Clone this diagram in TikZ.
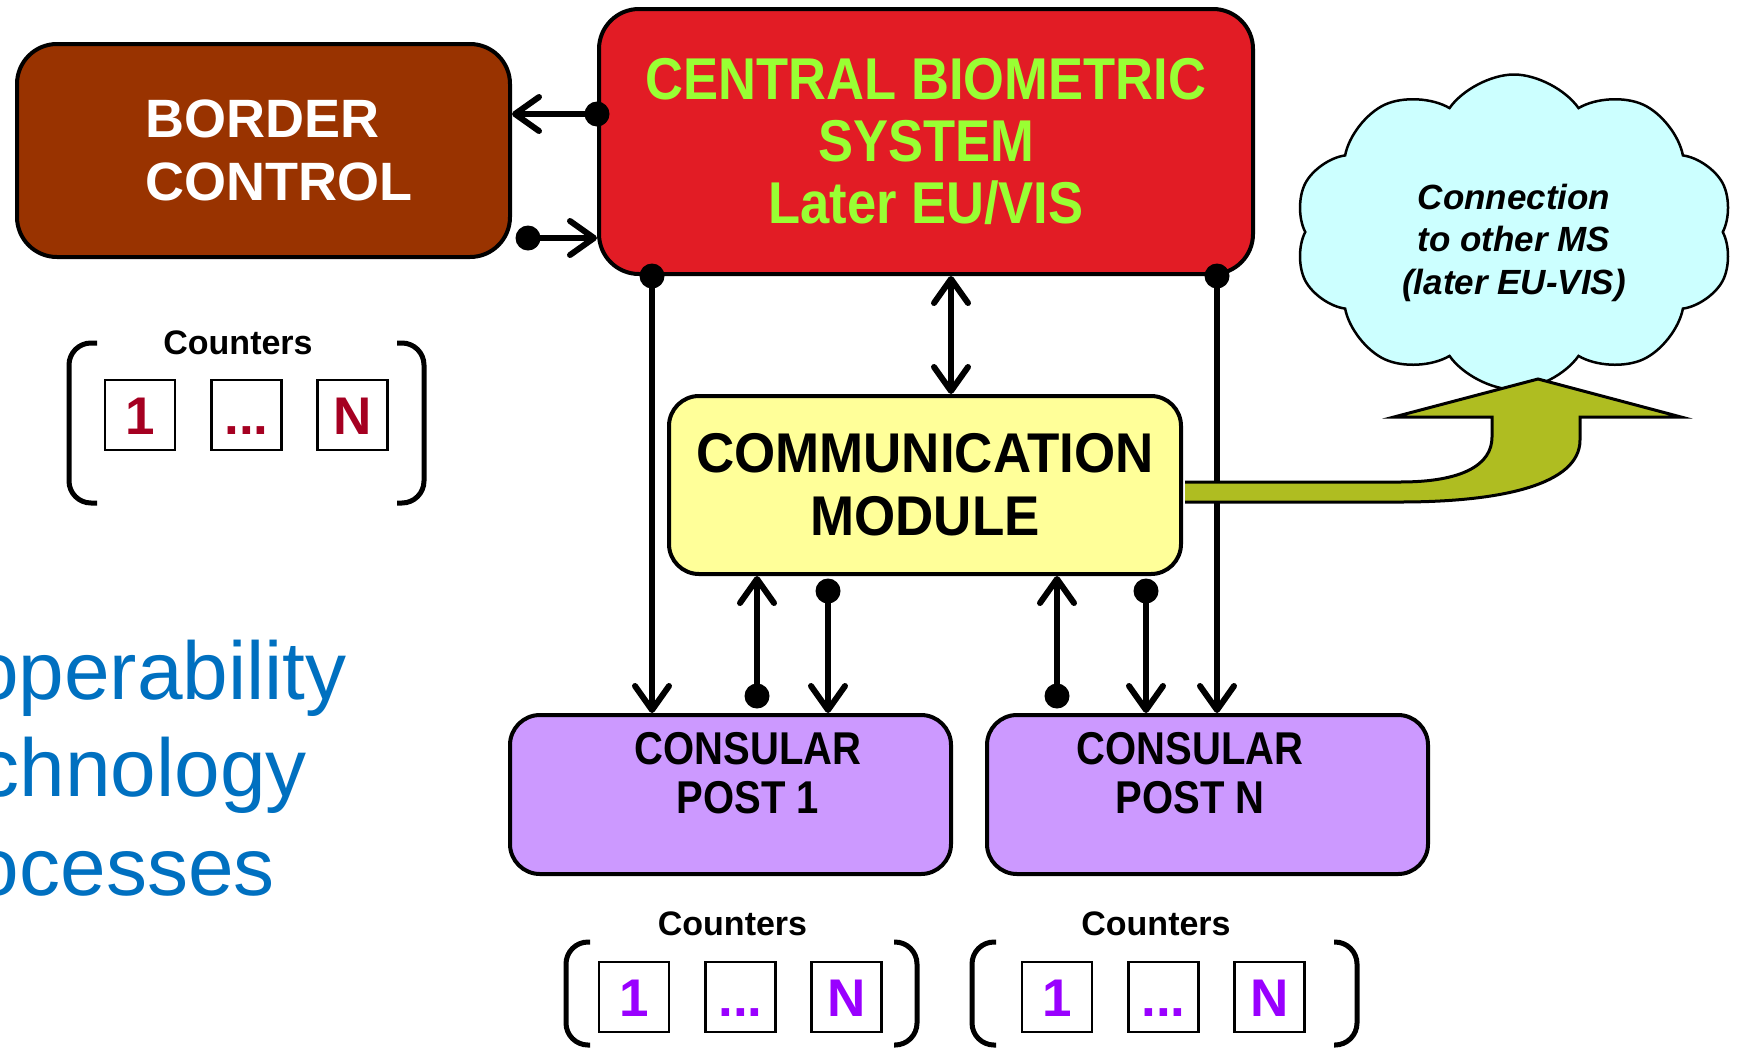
\documentclass[tikz,border=0pt]{standalone}
\usepackage{fontspec}
\setmainfont{Liberation Sans}
\newfontfamily\narrowA[FakeStretch=0.89]{Liberation Sans}
\newfontfamily\narrowB[FakeStretch=0.945]{Liberation Sans}
\newfontfamily\narrowC[FakeStretch=0.87]{Liberation Sans}
\usetikzlibrary{arrows.meta,shapes.symbols}

\definecolor{borderbrown}{HTML}{993300}
\definecolor{cbsred}{HTML}{E21C25}
\definecolor{cbsgreen}{HTML}{99FF33}
\definecolor{commyellow}{HTML}{FFFF99}
\definecolor{postviolet}{HTML}{CC99FF}
\definecolor{cloudcyan}{HTML}{CCFFFF}
\definecolor{linkolive}{HTML}{AFBD21}
\definecolor{cntred}{HTML}{A50021}
\definecolor{cntpurple}{HTML}{9900FF}
\definecolor{slideblue}{HTML}{0070C0}

\begin{document}
\begin{tikzpicture}[x=1pt, y=-1pt,
    box/.style={draw, line width=4pt, rounded corners=40pt, inner sep=0pt},
    posttext/.style={align=center, font=\narrowC\bfseries\fontsize{46}{49}\selectfont},
    link/.style={line width=6pt, -{Straight Barb[length=24pt,width=34pt,round]}},
    dlink/.style={line width=6pt, {Straight Barb[length=24pt,width=34pt,round]}-{Straight Barb[length=24pt,width=34pt,round]}},
    cnt/.style={draw, line width=2.5pt, minimum size=70pt, inner sep=0pt, text height=38pt, text depth=0pt,
        font=\bfseries\fontsize{53}{53}\selectfont},
    cntlabel/.style={anchor=base, font=\bfseries\fontsize{34}{34}\selectfont},
    brk/.style={line width=5pt, rounded corners=22pt},
    slide/.style={anchor=base east, inner sep=0pt, text=slideblue, font=\fontsize{82}{82}\selectfont}]
    \clip (0,0) rectangle (1739,1050);

    % boxes
    \node[box, fill=borderbrown, minimum width=493pt, minimum height=213pt] (border) at (263.5,150.5) {};
    \node[text=white, align=left, font=\bfseries\fontsize{54}{63}\selectfont] (bordertext) at (279,150.5) {BORDER\\CONTROL};
    \node[box, fill=cbsred, minimum width=654pt, minimum height=265pt, text=cbsgreen, align=center,
        font=\narrowA\bfseries\fontsize{59}{62}\selectfont] (central) at (926,141.5) {CENTRAL BIOMETRIC\\SYSTEM\\Later EU/VIS};
    \node[box, rounded corners=30pt, fill=commyellow, minimum width=512pt, minimum height=178pt, align=center,
        font=\narrowB\bfseries\fontsize{56}{63}\selectfont] (comm) at (925,485) {COMMUNICATION\\MODULE};
    \node[box, rounded corners=30pt, fill=postviolet, minimum width=441pt, minimum height=159pt] (post1) at (730.5,794.5) {};
    \node[posttext] (post1text) at (748,773.5) {CONSULAR\\POST 1};
    \node[box, rounded corners=30pt, fill=postviolet, minimum width=441pt, minimum height=159pt] (postN) at (1207.5,794.5) {};
    \node[posttext] (postNtext) at (1190,773.5) {CONSULAR\\POST N};
    \node[cloud, cloud puffs=10, cloud puff arc=110, cloud ignores aspect, draw, line width=2.5pt, fill=cloudcyan,
        minimum width=439pt, minimum height=315pt, align=center, text height=132pt, text depth=8pt,
        font=\bfseries\itshape\fontsize{35}{42.5}\selectfont] (cloud) at (1514,232) {Connection\\to other MS\\(later EU-VIS)};

    % connectors
    \coordinate (r1) at (0,114);
    \coordinate (r2) at (528,238);
    \coordinate (c1) at (652,0);
    \coordinate (c2) at (1217,0);
    \coordinate (c3) at (951,0);
    \coordinate (a1) at (757,696);
    \coordinate (a2) at (828,591);
    \coordinate (a3) at (1057,696);
    \coordinate (a4) at (1146,591);
    \coordinate (band) at (0,482);
    \coordinate (band2) at (0,502);

    \draw[link] (central.west |- r1) -- (border.east |- r1);
    \draw[link] (r2) -- (central.west |- r2);
    \draw[link] (central.south -| c1) -- (post1.north -| c1);
    \draw[link] (central.south -| c2) -- (postN.north -| c2);
    \draw[dlink] (central.south -| c3) -- (comm.north -| c3);
    \draw[link] (a1) -- (comm.south -| a1);
    \draw[link] (a2) -- (post1.north -| a2);
    \draw[link] (a3) -- (comm.south -| a3);
    \draw[link] (a4) -- (postN.north -| a4);

    \fill (central.west |- r1) circle[radius=12.5pt];
    \fill (r2) circle[radius=12.5pt];
    \fill (central.south -| c1) circle[radius=12.5pt];
    \fill (central.south -| c2) circle[radius=12.5pt];
    \fill (a1) circle[radius=12.5pt];
    \fill (a2) circle[radius=12.5pt];
    \fill (a3) circle[radius=12.5pt];
    \fill (a4) circle[radius=12.5pt];

    % link to the cloud
    \draw[line width=3pt, fill=linkolive]
        ([xshift=2pt]comm.east |- band) -- (1400,482) .. controls (1462,482) and (1492,465) .. (1492,437)
        -- (1492,417) -- (1394,417) -- (1538,379) -- (1681,417) -- (1580,417) -- (1580,440)
        .. controls (1580,485) and (1500,502) .. (1400,502) -- ([xshift=2pt]comm.east |- band2);

    % counters
    \node[cntlabel] (cntA) at (238,354) {Counters};
    \node[cnt, text=cntred] (cntA1) at (140,415) {1};
    \node[cnt, text=cntred] (cntA2) at (246.5,415) {...};
    \node[cnt, text=cntred] (cntA3) at (352.5,415) {N};
    \draw[brk] (97,343) -- (69,343) -- (69,503) -- (97,503);
    \draw[brk] (397,343) -- (424,343) -- (424,503) -- (397,503);

    \node[cntlabel] (cntB) at (732.5,935) {Counters};
    \node[cnt, text=cntpurple] (cntB1) at (634,997) {1};
    \node[cnt, text=cntpurple] (cntB2) at (740.5,997) {...};
    \node[cnt, text=cntpurple] (cntB3) at (846.5,997) {N};
    \draw[brk] (590,942) -- (566,942) -- (566,1045) -- (590,1045);
    \draw[brk] (894,942) -- (917,942) -- (917,1045) -- (894,1045);

    \node[cntlabel] (cntC) at (1156,935) {Counters};
    \node[cnt, text=cntpurple] (cntC1) at (1057,997) {1};
    \node[cnt, text=cntpurple] (cntC2) at (1163.5,997) {...};
    \node[cnt, text=cntpurple] (cntC3) at (1269.5,997) {N};
    \draw[brk] (996,942) -- (972,942) -- (972,1045) -- (996,1045);
    \draw[brk] (1334,942) -- (1357,942) -- (1357,1045) -- (1334,1045);

    % slide text
    \node[slide] (interop) at (347,699) {operability};
    \node[slide] (techno) at (307,796) {chnology};
    \node[slide] (process) at (275,895) {ocesses};
\end{tikzpicture}
\end{document}
